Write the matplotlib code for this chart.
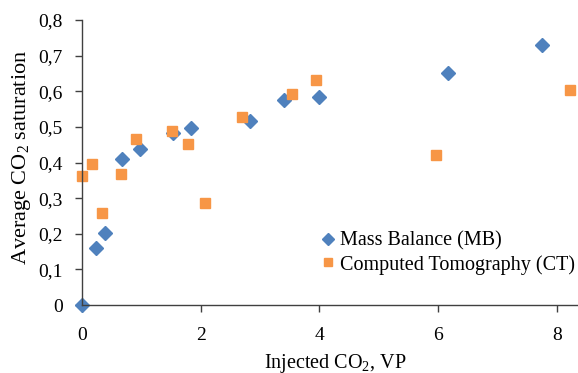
import matplotlib
matplotlib.use("Agg")
import matplotlib.pyplot as plt
from matplotlib.ticker import FuncFormatter

mb_x = [0.0, 0.23, 0.38, 0.67, 0.97, 1.53, 1.83, 2.84, 3.41, 4.0, 6.17, 7.76]
mb_y = [0.0, 0.159, 0.203, 0.409, 0.438, 0.482, 0.496, 0.517, 0.576, 0.585, 0.651, 0.731]
ct_x = [0.0, 0.17, 0.34, 0.65, 0.91, 1.52, 1.78, 2.08, 2.70, 3.54, 3.95, 5.97, 8.23]
ct_y = [0.363, 0.396, 0.259, 0.369, 0.466, 0.489, 0.452, 0.287, 0.529, 0.592, 0.632, 0.421, 0.604]
labels = ["Mass Balance (MB)", "Computed Tomography (CT)"]
colors = ["#4F81BD", "#F79646"]

plt.rcParams["font.family"] = ["Liberation Serif", "DejaVu Serif"]
plt.rcParams["mathtext.fontset"] = "custom"
plt.rcParams["mathtext.rm"] = "Liberation Serif"
plt.rcParams["mathtext.it"] = "Liberation Serif:italic"
plt.rcParams["mathtext.bf"] = "Liberation Serif:bold"

fig = plt.figure(figsize=(5.78, 3.73), dpi=100)
ax = fig.add_axes([82/578, 1-305/373, 1-82/578, (305-20)/373])
ax.plot(mb_x, mb_y, linestyle="none", marker="D", ms=6.8, color=colors[0], label=labels[0], clip_on=False)
ax.plot(ct_x, ct_y, linestyle="none", marker="s", ms=6.6, color=colors[1], label=labels[1], clip_on=False)

ax.set_xlim(0, 8.36)
ax.set_ylim(0, 0.8)
ax.set_xticks([0, 2, 4, 6, 8])
ax.set_yticks([0, 0.1, 0.2, 0.3, 0.4, 0.5, 0.6, 0.7, 0.8])
ax.yaxis.set_major_formatter(FuncFormatter(lambda v, p: "0" if abs(v) < 1e-9 else f"{v:.1f}".replace(".", ",")))
ax.spines["top"].set_visible(False)
ax.spines["right"].set_visible(False)
for s in ["left", "bottom"]:
    ax.spines[s].set_color("#404040")
    ax.spines[s].set_linewidth(1.0)
ax.tick_params(axis="both", direction="out", length=5, width=1, color="#404040", labelsize=14)
ax.tick_params(axis="x", pad=11)
ax.tick_params(axis="y", pad=9)
ax.set_ylabel("Average CO$_2$ saturation", fontsize=16)
ax.yaxis.set_label_coords((33-82)/496, (305-157.5)/285)
ax.set_xlabel("Injected CO$_2$, VP", fontsize=14.5)
ax.xaxis.set_label_coords((335-82)/496, -(352-305)/285)
ax.xaxis.label.set_va("top")
leg = ax.legend(loc="upper left", bbox_to_anchor=(322/578, 1-231.5/373), bbox_transform=fig.transFigure,
                frameon=False, fontsize=14.5, handlelength=0.6, handletextpad=0.3, labelspacing=0.2,
                borderpad=0, borderaxespad=0, markerscale=0.85)
fig.savefig("out.png", dpi=100)
